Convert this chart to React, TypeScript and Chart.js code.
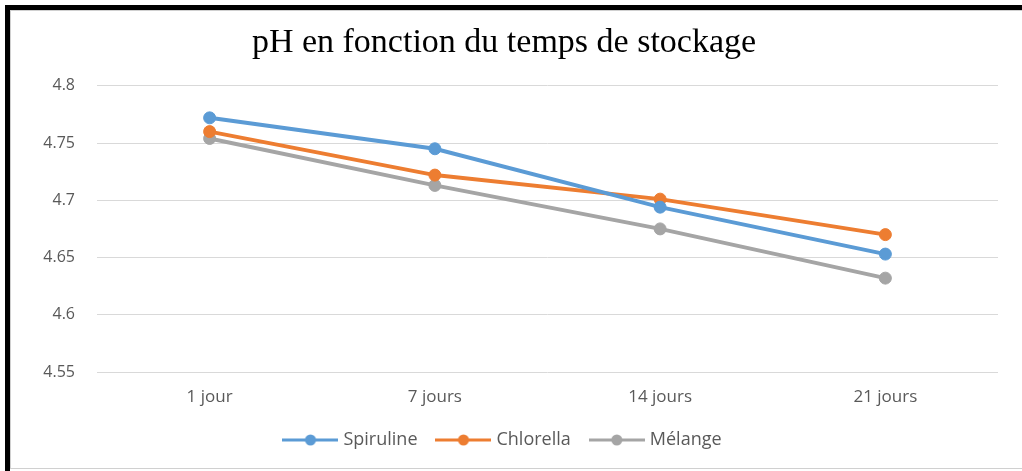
import React, { useEffect, useRef } from "react";
import { Chart, registerables } from "chart.js";

Chart.register(...registerables);

const categories = ["1 jour", "7 jours", "14 jours", "21 jours"];
const spiruline = [4.772, 4.745, 4.694, 4.653];
const chlorella = [4.760, 4.722, 4.701, 4.670];
const melange = [4.754, 4.713, 4.675, 4.632];
const yTicks = [4.55, 4.6, 4.65, 4.7, 4.75, 4.8];
const seriesNames = ["Spiruline", "Chlorella", "Mélange"];
const seriesColors = ["#5B9BD5", "#ED7D31", "#A5A5A5"];
const titleText = "pH en fonction du temps de stockage";

function makeIcon(color: string): HTMLCanvasElement {
  const c = document.createElement("canvas");
  c.width = 56;
  c.height = 14;
  const ctx = c.getContext("2d")!;
  ctx.strokeStyle = color;
  ctx.lineWidth = 3;
  ctx.beginPath();
  ctx.moveTo(0, 7);
  ctx.lineTo(56, 7);
  ctx.stroke();
  ctx.fillStyle = color;
  ctx.beginPath();
  ctx.arc(28, 7, 5.5, 0, Math.PI * 2);
  ctx.fill();
  return c;
}

export default function App() {
  const ref = useRef<HTMLCanvasElement | null>(null);

  useEffect(() => {
    document.body.style.margin = "0";
    document.body.style.background = "#ffffff";
    document.body.style.overflow = "hidden";
    if (!ref.current) return;
    const icons = seriesColors.map(makeIcon);
    const values = [spiruline, chlorella, melange];
    const chart = new Chart(ref.current, {
      type: "line",
      data: {
        labels: categories,
        datasets: values.map((v, i) => ({
          label: seriesNames[i],
          data: v,
          borderColor: seriesColors[i],
          backgroundColor: seriesColors[i],
          pointBackgroundColor: seriesColors[i],
          pointBorderColor: seriesColors[i],
          borderWidth: 4,
          pointRadius: 6,
          pointBorderWidth: 1,
          tension: 0,
          fill: false,
        })),
      },
      options: {
        responsive: false,
        animation: false,
        layout: { padding: { top: 10, left: 10, right: 24, bottom: 12 } },
        plugins: {
          title: {
            display: true,
            text: titleText,
            color: "#000000",
            font: { family: "'Liberation Serif', serif", size: 34, weight: "normal" },
            padding: { top: 13, bottom: 22 },
          },
          legend: {
            position: "bottom",
            labels: {
              usePointStyle: true,
              pointStyleWidth: 48,
              padding: 22,
              color: "#595959",
              font: { family: "'Open Sans', sans-serif", size: 18 },
              generateLabels: (ch: any) => {
                const base = (Chart.defaults.plugins.legend.labels as any).generateLabels(ch);
                return base.map((l: any, i: number) => ({ ...l, pointStyle: icons[i] }));
              },
            },
          },
          tooltip: { enabled: false },
        },
        scales: {
          x: {
            offset: true,
            afterFit: (s: any) => {
              s.height = 37;
            },
            grid: { display: false, drawTicks: false },
            border: { display: false },
            ticks: {
              color: "#595959",
              padding: 15,
              font: { family: "'Open Sans', sans-serif", size: 17 },
            },
          },
          y: {
            min: 4.55,
            max: 4.8,
            afterFit: (s: any) => {
              s.width = 87;
            },
            afterBuildTicks: (s: any) => {
              s.ticks = yTicks.map((v) => ({ value: v }));
            },
            grid: { color: "#D9D9D9", lineWidth: 1, drawTicks: false },
            border: { display: false },
            ticks: {
              color: "#595959",
              padding: 22,
              font: { family: "'Open Sans', sans-serif", size: 16 },
              callback: (v: any) => String(Number(Number(v).toFixed(2))),
            },
          },
        },
      },
    });
    return () => chart.destroy();
  }, []);

  return (
    <div
      style={{
        position: "absolute",
        left: 0,
        top: 0,
        width: 1022,
        height: 471,
        background: "#ffffff",
        overflow: "hidden",
      }}
    >
      <div style={{ position: "absolute", left: 10, top: 10, width: 1012, height: 1, background: "#D0D0D0" }} />
      <div style={{ position: "absolute", left: 10, top: 10, width: 1, height: 459, background: "#D0D0D0" }} />
      <div style={{ position: "absolute", left: 10, top: 468, width: 1012, height: 1, background: "#D0D0D0" }} />
      <div style={{ position: "absolute", left: 5, top: 5, width: 1017, height: 5, background: "#000000" }} />
      <div style={{ position: "absolute", left: 5, top: 5, width: 5, height: 466, background: "#000000" }} />
      <canvas
        ref={ref}
        width={1022}
        height={471}
        style={{ position: "absolute", left: 0, top: 0, display: "block" }}
      />
    </div>
  );
}
